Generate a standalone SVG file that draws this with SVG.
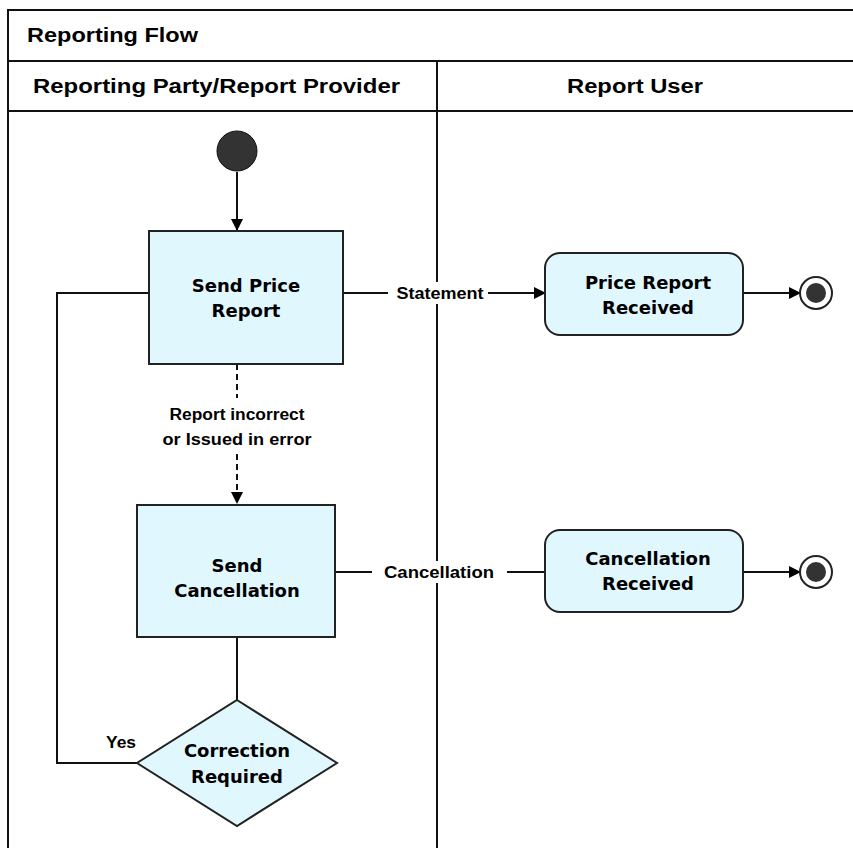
<svg xmlns="http://www.w3.org/2000/svg" width="853" height="848" viewBox="0 0 853 848">
<defs>
<marker id="arr" markerWidth="12" markerHeight="12" refX="11" refY="6" orient="auto" markerUnits="userSpaceOnUse">
<path d="M0,0 L12,6 L0,12 Z" fill="#000"/>
</marker>
<style>
.hdr{font-family:"Liberation Sans Narrow","Liberation Sans",Arial,sans-serif;font-weight:bold;font-size:20px;fill:#000}
.lbl{font-family:"Liberation Sans Narrow","Liberation Sans",Arial,sans-serif;font-weight:bold;font-size:16px;fill:#000;text-anchor:middle}
.nt{font-family:"DejaVu Sans",Verdana,sans-serif;font-weight:bold;font-size:18px;fill:#000;text-anchor:middle}
.box{fill:#e1f7fe;stroke:#222;stroke-width:2}
.ln{fill:none;stroke:#111;stroke-width:2}
.dash{fill:none;stroke:#111;stroke-width:2;stroke-dasharray:6,4}
</style>
</defs>
<rect width="853" height="848" fill="#fff"/>
<g id="frame">
<path d="M8,860 L8,10 L860,10" class="ln"/>
<line x1="8" y1="61" x2="860" y2="61" class="ln"/>
<line x1="8" y1="111" x2="860" y2="111" class="ln"/>
<line x1="437" y1="61" x2="437" y2="860" class="ln"/>
<text x="27" y="42" class="hdr" textLength="171" lengthAdjust="spacingAndGlyphs">Reporting Flow</text>
<text x="33" y="93" class="hdr" textLength="367" lengthAdjust="spacingAndGlyphs">Reporting  Party/Report Provider</text>
<text x="567" y="93" class="hdr" textLength="136" lengthAdjust="spacingAndGlyphs">Report User</text>
</g>
<g id="connectors">
<line x1="237" y1="172" x2="237" y2="230" class="ln" marker-end="url(#arr)"/>
<line x1="343" y1="293" x2="545" y2="293" class="ln" marker-end="url(#arr)"/>
<rect x="388" y="282" width="100" height="22" fill="#fff"/>
<text x="440" y="299" class="lbl" textLength="87" lengthAdjust="spacingAndGlyphs">Statement</text>
<line x1="743" y1="293" x2="800" y2="293" class="ln" marker-end="url(#arr)"/>
<line x1="237" y1="364" x2="237" y2="503" class="dash" marker-end="url(#arr)"/>
<rect x="160" y="398" width="156" height="56" fill="#fff"/>
<text x="237" y="420" class="lbl" textLength="135" lengthAdjust="spacingAndGlyphs">Report incorrect</text>
<text x="237" y="445" class="lbl" textLength="149" lengthAdjust="spacingAndGlyphs">or Issued in error</text>
<line x1="335" y1="572" x2="545" y2="572" class="ln"/>
<rect x="372" y="561" width="135" height="22" fill="#fff"/>
<text x="439" y="578" class="lbl" textLength="110" lengthAdjust="spacingAndGlyphs">Cancellation</text>
<line x1="743" y1="572" x2="800" y2="572" class="ln" marker-end="url(#arr)"/>
<line x1="237" y1="637" x2="237" y2="700" class="ln"/>
<path d="M137,763 L57,763 L57,293 L149,293" class="ln"/>
<text x="121" y="748" class="lbl" textLength="30" lengthAdjust="spacingAndGlyphs">Yes</text>
</g>
<g id="start">
<circle cx="237" cy="151" r="20" fill="#333" stroke="#111" stroke-width="1"/>
</g>
<g id="sendPriceReport">
<rect x="149" y="231" width="194" height="133" class="box"/>
<text x="246" y="292" class="nt">Send Price</text>
<text x="246" y="317" class="nt">Report</text>
</g>
<g id="priceReportReceived">
<rect x="545" y="253" width="198" height="82" rx="15" class="box"/>
<text x="648" y="289" class="nt">Price Report</text>
<text x="648" y="314" class="nt">Received</text>
</g>
<g id="end1">
<circle cx="816" cy="293" r="16" fill="#fff" stroke="#222" stroke-width="2"/>
<circle cx="816" cy="293" r="10" fill="#333"/>
</g>
<g id="sendCancellation">
<rect x="137" y="505" width="198" height="132" class="box"/>
<text x="237" y="572" class="nt">Send</text>
<text x="237" y="597" class="nt">Cancellation</text>
</g>
<g id="cancellationReceived">
<rect x="545" y="530" width="198" height="82" rx="15" class="box"/>
<text x="648" y="565" class="nt">Cancellation</text>
<text x="648" y="590" class="nt">Received</text>
</g>
<g id="end2">
<circle cx="816" cy="572" r="16" fill="#fff" stroke="#222" stroke-width="2"/>
<circle cx="816" cy="572" r="10" fill="#333"/>
</g>
<g id="correctionRequired">
<path d="M237,700 L337,763 L237,826 L137,763 Z" class="box"/>
<text x="237" y="757" class="nt">Correction</text>
<text x="237" y="783" class="nt">Required</text>
</g>
</svg>
